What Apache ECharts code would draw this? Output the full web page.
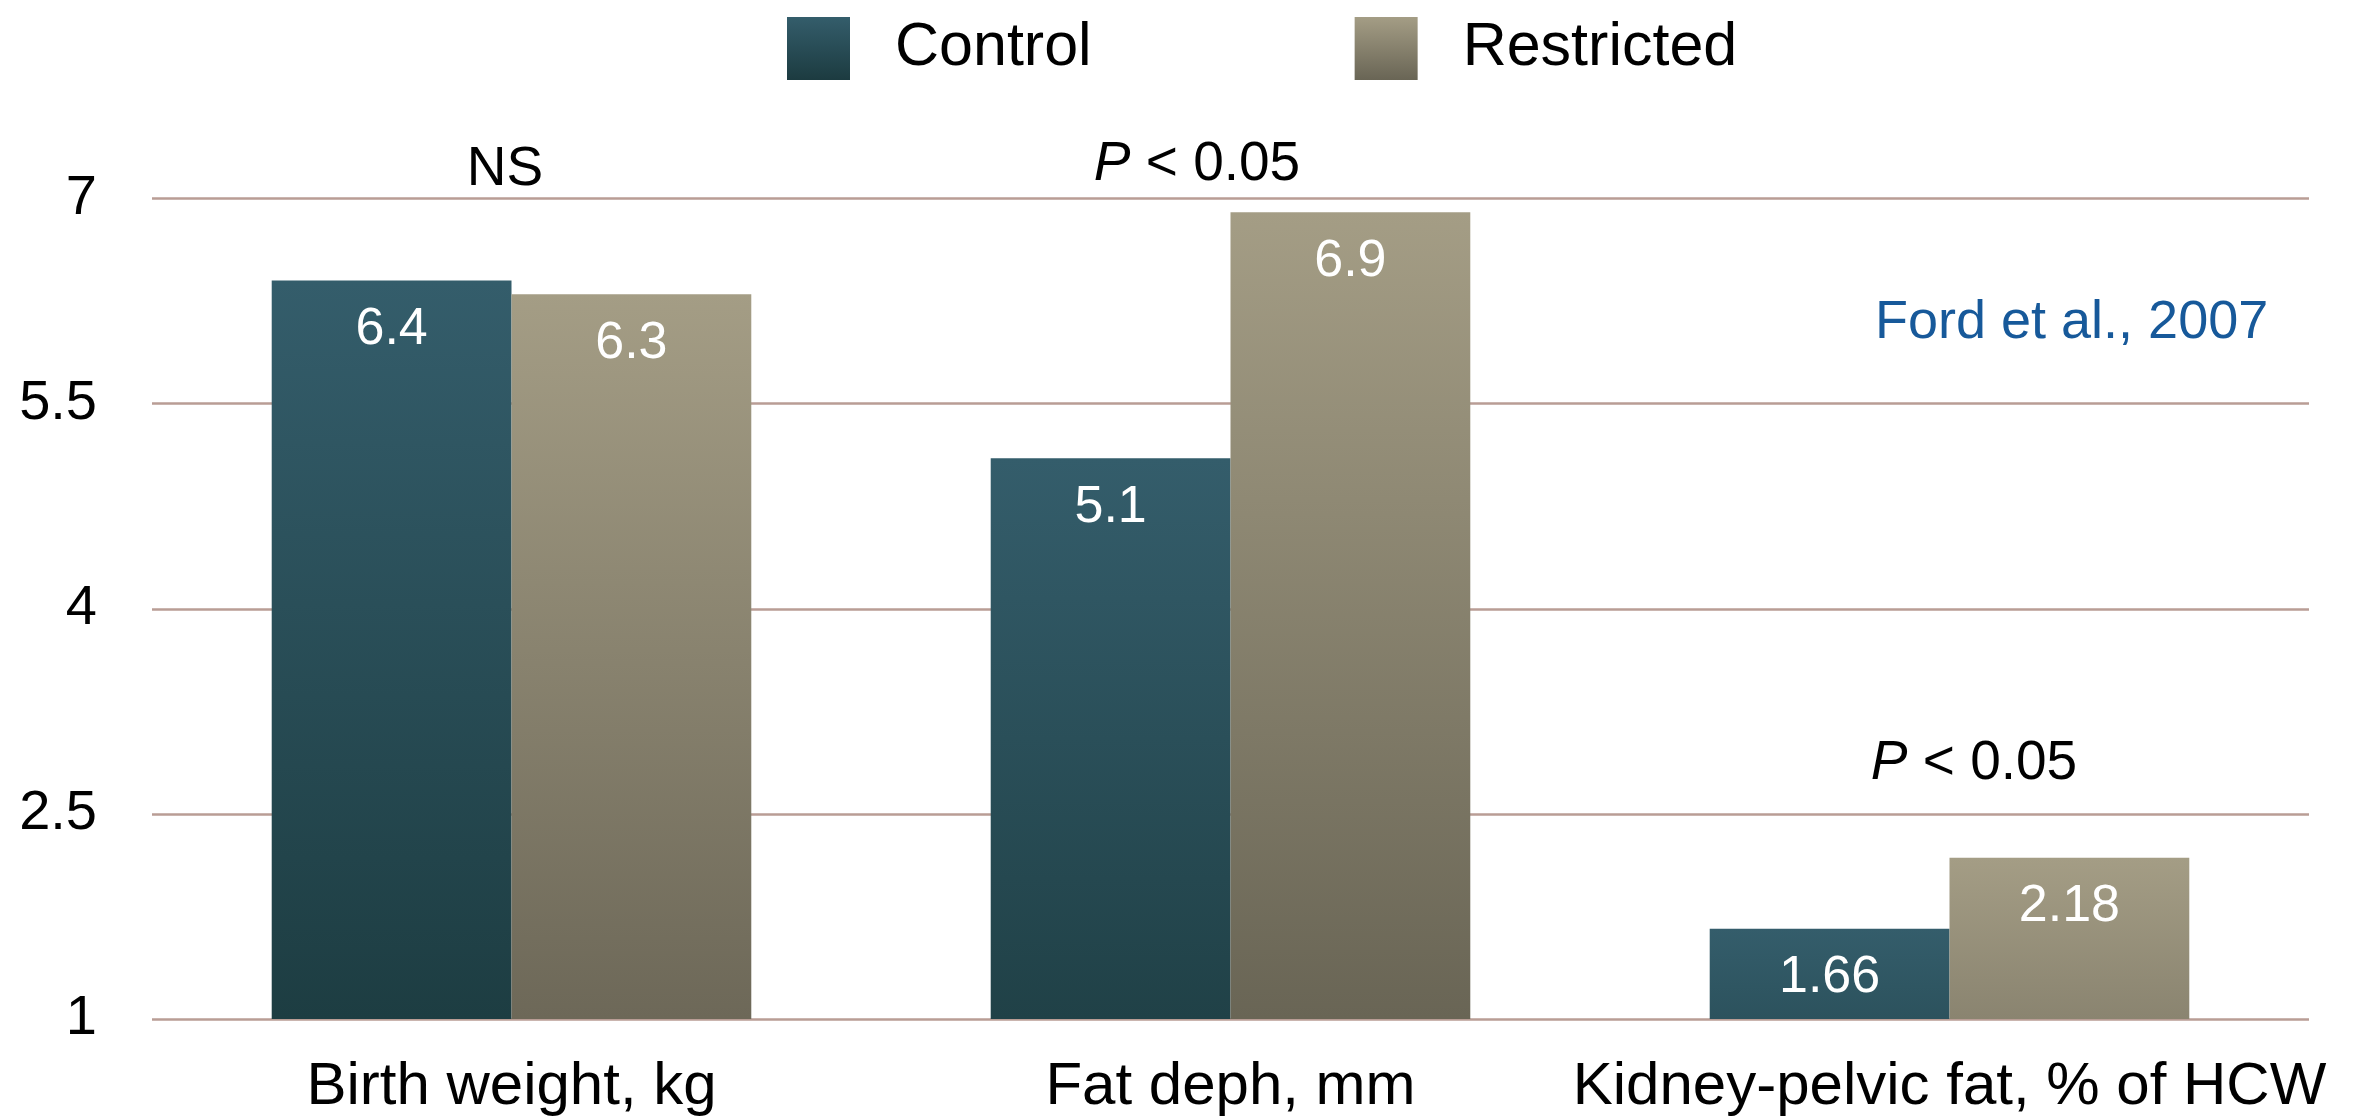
<!DOCTYPE html>
<html>
<head>
<meta charset="utf-8">
<script src="https://cdn.jsdelivr.net/npm/echarts@6/dist/echarts.min.js"></script>
<style>
  html, body { margin: 0; padding: 0; background: #ffffff; }
  #chart { width: 2358px; height: 1117px; }
</style>
</head>
<body>
<div id="chart"></div>
<script>
// Values per measurement
const categories = ['Birth weight, kg', 'Fat deph, mm', 'Kidney-pelvic fat, % of HCW'];
const seriesNames = ['Control', 'Restricted'];
const controlValues = [6.4, 5.1, 1.66];
const restrictedValues = [6.3, 6.9, 2.18];
const yTicks = [1, 2.5, 4, 5.5, 7];
const significance = ['NS', 'P < 0.05', 'P < 0.05'];
const sourceNote = 'Ford et al., 2007';

const FONT = '"Liberation Sans", Arial, Helvetica, sans-serif';
const yMin = yTicks[0];
const yMax = yTicks[yTicks.length - 1];
const yStep = yTicks[1] - yTicks[0];

// Vertical shading: light at the top of each bar, darker towards the base;
// short bars don't reach the darkest tone.
const palettes = {
  Control: { top: [0x34, 0x5d, 0x6b], bottom: [0x1c, 0x3b, 0x40] },
  Restricted: { top: [0xa4, 0x9d, 0x85], bottom: [0x69, 0x65, 0x55] }
};
function mix(a, b, t) {
  return 'rgb(' + a.map((c, i) => Math.round(c + (b[i] - c) * t)).join(',') + ')';
}
function shade(name, v) {
  const p = palettes[name];
  const t = v === undefined ? 1 : Math.min(1, Math.sqrt((v - yMin) / (yMax - yMin)));
  return {
    type: 'linear', x: 0, y: 0, x2: 0, y2: 1,
    colorStops: [
      { offset: 0, color: mix(p.top, p.top, 0) },
      { offset: 1, color: mix(p.top, p.bottom, t) }
    ]
  };
}

function barSeries(name, values) {
  return {
    name: name,
    type: 'bar',
    barGap: '0%',
    barCategoryGap: '33.3%',
    itemStyle: { color: shade(name) },
    data: values.map(v => ({ value: v, itemStyle: { color: shade(name, v) } })),
    label: {
      show: true,
      position: 'insideTop',
      distance: 23,
      color: '#ffffff',
      fontSize: 52,
      fontFamily: FONT
    },
    emphasis: { disabled: true }
  };
}

const chart = echarts.init(document.getElementById('chart'), null, { renderer: 'canvas' });

const pStyle = {
  rich: {
    i: { fontStyle: 'italic', fontSize: 55, fontFamily: FONT, fill: '#000' },
    n: { fontSize: 55, fontFamily: FONT, fill: '#000' }
  }
};
function sigText(s) {
  return s.startsWith('P') ? '{i|P}{n|' + s.slice(1) + '}' : '{n|' + s + '}';
}

chart.setOption({
  animation: false,
  backgroundColor: '#ffffff',
  grid: { left: 152, right: 49, top: 198.5, bottom: 95 },
  legend: {
    data: seriesNames,
    left: 782,
    top: 12,
    itemWidth: 63,
    itemHeight: 63,
    itemGap: 263,
    icon: 'rect',
    textStyle: { color: '#000', fontSize: 61, fontFamily: FONT, padding: [0, 0, 0, 40] }
  },
  xAxis: {
    type: 'category',
    data: categories,
    axisLine: { show: false },
    axisTick: { show: false },
    axisLabel: { color: '#000', fontSize: 60, fontFamily: FONT, margin: 38, interval: 0 }
  },
  yAxis: {
    type: 'value',
    min: yMin,
    max: yMax,
    interval: yStep,
    axisLine: { show: false },
    axisTick: { show: false },
    axisLabel: { color: '#000', fontSize: 56, fontFamily: FONT, margin: 55 },
    splitLine: { lineStyle: { color: '#b99d95', width: 2.5 } }
  },
  series: [barSeries(seriesNames[0], controlValues), barSeries(seriesNames[1], restrictedValues)],
  graphic: [
    { type: 'text', x: 505, y: 170, style: Object.assign({ text: sigText(significance[0]), align: 'center', verticalAlign: 'middle' }, pStyle) },
    { type: 'text', x: 1197, y: 165, style: Object.assign({ text: sigText(significance[1]), align: 'center', verticalAlign: 'middle' }, pStyle) },
    { type: 'text', x: 1974, y: 764, style: Object.assign({ text: sigText(significance[2]), align: 'center', verticalAlign: 'middle' }, pStyle) },
    { type: 'text', x: 1875, y: 323, style: { text: sourceNote, align: 'left', verticalAlign: 'middle', fill: '#17599a', fontSize: 54, fontFamily: FONT } }
  ]
});
</script>
</body>
</html>
